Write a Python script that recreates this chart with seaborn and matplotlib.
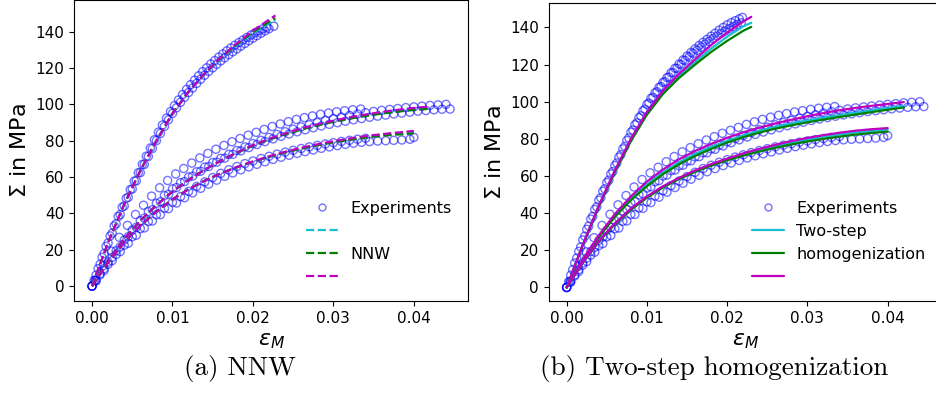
import seaborn as sns
import matplotlib.pyplot as plt
from matplotlib.lines import Line2D

# experiments, steep load case (three replicates)
exp_a1_strain = [0.0000, 0.0005, 0.0010, 0.0015, 0.0020, 0.0025, 0.0030, 0.0035, 0.0040, 0.0045,
                 0.0050, 0.0055, 0.0060, 0.0065, 0.0070, 0.0075, 0.0080, 0.0085, 0.0090, 0.0095,
                 0.0100, 0.0105, 0.0110, 0.0115, 0.0120, 0.0125, 0.0130, 0.0135, 0.0140, 0.0145,
                 0.0150, 0.0155, 0.0160, 0.0165, 0.0170, 0.0175, 0.0180, 0.0185, 0.0190, 0.0195,
                 0.0200, 0.0205, 0.0210, 0.0215, 0.0220, 0.0226]
exp_a1_stress = [0.0, 6.0, 12.0, 17.9, 23.7, 29.1, 34.3, 39.3, 44.1, 48.8,
                 53.4, 57.9, 62.4, 66.9, 71.3, 75.7, 80.0, 84.0, 87.8, 91.5,
                 95.0, 98.1, 101.1, 103.9, 106.5, 109.0, 111.5, 113.8, 116.0, 118.1,
                 120.1, 122.0, 123.9, 125.6, 127.3, 128.9, 130.5, 132.0, 133.5, 135.0,
                 136.4, 137.8, 139.1, 140.4, 141.6, 143.0]

exp_a2_strain = [0.00025, 0.00075, 0.00125, 0.00175, 0.00225, 0.00275, 0.00325, 0.00375, 0.00425, 0.00475,
                 0.00525, 0.00575, 0.00625, 0.00675, 0.00725, 0.00775, 0.00825, 0.00875, 0.00925, 0.00975,
                 0.01025, 0.01075, 0.01125, 0.01175, 0.01225, 0.01275, 0.01325, 0.01375, 0.01425, 0.01475,
                 0.01525, 0.01575, 0.01625, 0.01675, 0.01725, 0.01775, 0.01825, 0.01875, 0.01925, 0.01975,
                 0.02025, 0.02075, 0.02125, 0.02175]
exp_a2_stress = [3.2, 9.6, 15.8, 21.8, 27.6, 33.1, 38.3, 43.4, 48.3, 53.1,
                 57.8, 62.4, 67.0, 71.5, 76.0, 80.5, 84.7, 88.6, 92.4, 96.0,
                 99.3, 102.4, 105.4, 108.2, 110.8, 113.3, 115.7, 118.0, 120.1, 122.2,
                 124.1, 126.0, 127.7, 129.4, 131.0, 132.5, 134.0, 135.4, 136.8, 138.1,
                 139.4, 140.5, 141.6, 142.5]

exp_a3_strain = [0.0000, 0.0005, 0.0010, 0.0015, 0.0020, 0.0025, 0.0030, 0.0035, 0.0040, 0.0045,
                 0.0050, 0.0055, 0.0060, 0.0065, 0.0070, 0.0075, 0.0080, 0.0085, 0.0090, 0.0095,
                 0.0100, 0.0105, 0.0110, 0.0115, 0.0120, 0.0125, 0.0130, 0.0135, 0.0140, 0.0145,
                 0.0150, 0.0155, 0.0160, 0.0165, 0.0170, 0.0175, 0.0180, 0.0185, 0.0190, 0.0195,
                 0.0200, 0.0205, 0.0210, 0.0215, 0.0219]
exp_a3_stress = [0.0, 6.6, 13.1, 19.4, 25.6, 31.3, 36.8, 42.0, 47.0, 51.8,
                 56.5, 61.1, 65.6, 70.1, 74.6, 79.1, 83.5, 87.6, 91.4, 95.1,
                 98.6, 101.8, 104.8, 107.7, 110.4, 113.0, 115.6, 118.0, 120.3, 122.5,
                 124.6, 126.6, 128.5, 130.3, 132.0, 133.6, 135.3, 136.9, 138.5, 140.0,
                 141.4, 142.6, 143.6, 144.6, 145.4]

# experiments, middle load case
exp_b1_strain = [0.0000, 0.0004, 0.0014, 0.0024, 0.0034, 0.0044, 0.0054, 0.0064, 0.0074, 0.0084,
                 0.0094, 0.0104, 0.0114, 0.0124, 0.0134, 0.0144, 0.0154, 0.0164, 0.0174, 0.0184,
                 0.0194, 0.0204, 0.0214, 0.0224, 0.0234, 0.0244, 0.0254, 0.0264, 0.0274, 0.0284,
                 0.0294, 0.0304, 0.0314, 0.0324, 0.0334]
exp_b1_stress = [0.0, 3.2, 11.2, 19.2, 26.8, 33.4, 39.4, 44.5, 49.5, 54.1,
                 58.1, 61.7, 64.7, 67.7, 70.5, 73.0, 75.3, 77.4, 79.4, 81.2,
                 83.0, 84.6, 86.2, 87.8, 89.2, 90.5, 91.7, 92.7, 93.6, 94.5,
                 95.2, 95.9, 96.5, 97.0, 97.4]

exp_b2_strain = [0.000, 0.001, 0.002, 0.003, 0.004, 0.005, 0.006, 0.007, 0.008, 0.009,
                 0.010, 0.011, 0.012, 0.013, 0.014, 0.015, 0.016, 0.017, 0.018, 0.019,
                 0.020, 0.021, 0.022, 0.023, 0.024, 0.025, 0.026, 0.027, 0.028, 0.029,
                 0.030, 0.031, 0.032, 0.033, 0.034, 0.035, 0.036, 0.037, 0.038, 0.039,
                 0.040, 0.041, 0.042, 0.043, 0.044]
exp_b2_stress = [0.0, 6.8, 13.2, 19.4, 25.3, 30.8, 36.0, 41.0, 45.5, 49.8,
                 53.5, 56.9, 60.0, 62.9, 65.5, 68.0, 70.3, 72.5, 74.6, 76.6,
                 78.4, 80.2, 81.8, 83.4, 84.9, 86.3, 87.6, 88.8, 90.0, 91.1,
                 92.1, 93.0, 93.9, 94.7, 95.4, 96.1, 96.7, 97.2, 97.7, 98.2,
                 98.6, 99.0, 99.4, 99.7, 100.0]

exp_b3_strain = [0.0005, 0.0015, 0.0025, 0.0035, 0.0045, 0.0055, 0.0065, 0.0075, 0.0085, 0.0095,
                 0.0105, 0.0115, 0.0125, 0.0135, 0.0145, 0.0155, 0.0165, 0.0175, 0.0185, 0.0195,
                 0.0205, 0.0215, 0.0225, 0.0235, 0.0245, 0.0255, 0.0265, 0.0275, 0.0285, 0.0295,
                 0.0305, 0.0315, 0.0325, 0.0335, 0.0345, 0.0355, 0.0365, 0.0375, 0.0385, 0.0395,
                 0.0405, 0.0415, 0.0425, 0.0435, 0.0445]
exp_b3_stress = [3.2, 9.6, 15.8, 21.6, 27.2, 32.4, 37.4, 42.0, 46.4, 50.5,
                 54.2, 57.5, 60.5, 63.2, 65.8, 68.2, 70.4, 72.5, 74.4, 76.2,
                 77.9, 79.5, 81.0, 82.4, 83.7, 84.9, 86.0, 87.1, 88.1, 89.0,
                 89.9, 90.7, 91.5, 92.2, 92.9, 93.5, 94.1, 94.7, 95.2, 95.7,
                 96.2, 96.6, 97.0, 97.3, 97.4]

# experiments, lower load case
exp_c1_strain = [0.000, 0.001, 0.002, 0.003, 0.004, 0.005, 0.006, 0.007, 0.008, 0.009,
                 0.010, 0.011, 0.012, 0.013, 0.014, 0.015, 0.016, 0.017, 0.018, 0.019,
                 0.020, 0.021, 0.022, 0.023, 0.024, 0.025, 0.026, 0.027, 0.028, 0.029,
                 0.030, 0.031, 0.032, 0.033, 0.034]
exp_c1_stress = [0.0, 6.2, 12.0, 17.4, 22.5, 27.2, 31.6, 35.6, 39.3, 42.8,
                 46.1, 49.2, 52.1, 54.8, 57.3, 59.7, 62.0, 64.0, 65.8, 67.4,
                 68.8, 70.2, 71.4, 72.6, 73.7, 74.7, 75.7, 76.6, 77.4, 78.2,
                 78.9, 79.6, 80.2, 80.8, 81.3]

exp_c2_strain = [0.0005, 0.0015, 0.0025, 0.0035, 0.0045, 0.0055, 0.0065, 0.0075, 0.0085, 0.0095,
                 0.0105, 0.0115, 0.0125, 0.0135, 0.0145, 0.0155, 0.0165, 0.0175, 0.0185, 0.0195,
                 0.0205, 0.0215, 0.0225, 0.0235, 0.0245, 0.0255, 0.0265, 0.0275, 0.0285, 0.0295,
                 0.0305, 0.0315, 0.0325, 0.0335, 0.0345, 0.0355, 0.0365, 0.0375, 0.0385, 0.0395,
                 0.0400]
exp_c2_stress = [2.8, 8.6, 14.0, 19.0, 23.6, 28.0, 32.0, 35.8, 39.3, 42.6,
                 45.7, 48.6, 51.3, 53.8, 56.1, 58.3, 60.4, 62.3, 64.0, 65.6,
                 67.0, 68.4, 69.7, 70.9, 72.0, 73.0, 74.0, 74.9, 75.8, 76.6,
                 77.3, 78.0, 78.6, 79.1, 79.5, 79.8, 80.0, 80.2, 80.4, 80.8,
                 81.8]

# model predictions
strain_a_nnw = [0.0, 0.002, 0.004, 0.006, 0.008, 0.010, 0.012, 0.014, 0.016, 0.018, 0.020, 0.022, 0.0228]
strain_a_ts = [0.0, 0.002, 0.004, 0.006, 0.008, 0.010, 0.012, 0.014, 0.016, 0.018, 0.020, 0.022, 0.0230]
strain_b = [0.0, 0.002, 0.004, 0.006, 0.008, 0.010, 0.012, 0.014, 0.016, 0.018, 0.020,
            0.022, 0.024, 0.026, 0.028, 0.030, 0.032, 0.034, 0.036, 0.038, 0.040, 0.042]
strain_c = [0.0, 0.002, 0.004, 0.006, 0.008, 0.010, 0.012, 0.014, 0.016, 0.018, 0.020,
            0.022, 0.024, 0.026, 0.028, 0.030, 0.032, 0.034, 0.036, 0.038, 0.040]

nnw_a = {
    'c': [0, 24, 45, 63.5, 80, 95, 107, 116.8, 125.3, 132.6, 139.1, 144.6, 146.4],
    'g': [0, 24, 45, 63.5, 80, 95, 107, 117.0, 125.6, 133.0, 139.7, 145.4, 147.4],
    'm': [0, 24, 45, 63.5, 80, 95, 107, 117.0, 125.8, 133.5, 140.5, 146.6, 148.9],
}
nnw_b = {
    'c': [0, 14, 26, 36, 44.5, 52, 58.5, 64, 69, 73.4, 77.3, 80.8, 83.8, 86.4, 88.7, 90.7, 92.4, 93.9, 95.2, 96.3, 97.2, 97.9],
    'g': [0, 14, 26, 36, 44.5, 52, 58.5, 64, 69, 73.3, 77.2, 80.6, 83.5, 86.1, 88.4, 90.4, 92.1, 93.6, 94.9, 96.0, 96.9, 97.6],
    'm': [0, 14, 26, 36, 44.5, 52, 58.5, 64, 69, 73.5, 77.5, 81.0, 84.0, 86.7, 89.0, 91.0, 92.8, 94.4, 95.8, 97.0, 98.0, 98.8],
}
nnw_c = {
    'c': [0, 13, 24, 33.2, 41, 47.7, 53.3, 58, 62, 65.4, 68.5, 71.2, 73.7, 75.8, 77.7, 79.4, 80.8, 82.1, 83.1, 83.9, 84.6],
    'g': [0, 13, 24, 33.2, 41, 47.7, 53.3, 58, 62, 65.4, 68.4, 71.1, 73.5, 75.6, 77.5, 79.1, 80.5, 81.7, 82.7, 83.4, 84.0],
    'm': [0, 13, 24, 33.2, 41, 47.7, 53.3, 58, 62, 65.5, 68.6, 71.4, 73.9, 76.1, 78.0, 79.7, 81.2, 82.5, 83.6, 84.5, 85.4],
}

ts_a = {
    'c': [0, 22.8, 43.7, 62.6, 79.4, 93.8, 105.1, 113.9, 121.4, 128.6, 135.0, 140.6, 142.5],
    'g': [0, 22.7, 43.5, 62.2, 78.8, 93.0, 104.2, 112.8, 120.0, 126.8, 132.8, 138.2, 140.3],
    'm': [0, 23.0, 44.0, 63.0, 80.0, 94.5, 106.0, 115.0, 122.8, 130.5, 137.3, 143.2, 145.7],
}
ts_b = {
    'c': [0, 14.7, 27.4, 38.6, 47.8, 55.5, 62.0, 67.4, 71.9, 75.7, 79.0, 81.9, 84.4, 86.5, 88.3, 89.9, 91.4, 92.8, 94.1, 95.3, 96.5, 97.6],
    'g': [0, 14.5, 27.0, 38.0, 47.0, 54.5, 61.0, 66.3, 70.8, 74.6, 78.0, 80.9, 83.4, 85.5, 87.3, 88.9, 90.4, 91.8, 93.1, 94.4, 95.7, 96.9],
    'm': [0, 15.0, 28.0, 39.5, 49.0, 57.0, 63.5, 69.0, 73.5, 77.3, 80.6, 83.5, 86.0, 88.3, 90.3, 92.2, 93.9, 95.4, 96.7, 97.8, 98.8, 99.8],
}
ts_c = {
    'c': [0, 13.4, 24.8, 34.2, 42.1, 48.6, 54.1, 58.7, 62.6, 66.0, 69.0, 71.6, 74.0, 76.0, 77.9, 79.5, 81.0, 82.3, 83.4, 84.3, 85.0],
    'g': [0, 13.3, 24.6, 34.0, 41.8, 48.3, 53.8, 58.4, 62.3, 65.6, 68.5, 71.0, 73.2, 75.2, 77.0, 78.6, 80.0, 81.2, 82.3, 83.2, 83.9],
    'm': [0, 13.5, 25.0, 34.5, 42.5, 49.0, 54.5, 59.0, 63.0, 66.4, 69.4, 72.2, 74.6, 76.8, 78.8, 80.5, 82.0, 83.3, 84.4, 85.2, 85.8],
}

colors = {'c': 'tab:cyan', 'g': 'green', 'm': 'm'}

sns.set_style('ticks')
plt.rcParams['font.family'] = 'DejaVu Sans'
plt.rcParams['axes.edgecolor'] = 'black'
plt.rcParams['xtick.color'] = 'black'
plt.rcParams['ytick.color'] = 'black'
plt.rcParams['text.color'] = 'black'
plt.rcParams['axes.labelcolor'] = 'black'

fig = plt.figure(figsize=(9.36, 4.15), dpi=100)
ax1 = fig.add_axes([74 / 936, 114 / 415, 394 / 936, 301 / 415])
ax2 = fig.add_axes([548.7 / 936, 114 / 415, 393 / 936, 297.7 / 415])


def draw_experiments(ax, curves):
    for strain, stress in curves:
        sns.scatterplot(x=strain, y=stress, ax=ax, marker='o', s=34,
                        facecolors='none', edgecolor='blue', linewidth=1.0, alpha=0.55)


def draw_models(ax, cases, ls):
    for strain, model in cases:
        for key in ['c', 'g', 'm']:
            sns.lineplot(x=strain, y=model[key], ax=ax, color=colors[key],
                         linestyle=ls, linewidth=1.6, sort=False, estimator=None)


def style_axes(ax, ylim, labels, ls):
    ax.set_xlim(-0.00224, 0.04673)
    ax.set_ylim(*ylim)
    ax.set_xticks([0.0, 0.01, 0.02, 0.03, 0.04])
    ax.set_xticklabels(['0.00', '0.01', '0.02', '0.03', '0.04'])
    ax.set_yticks([0, 20, 40, 60, 80, 100, 120, 140])
    ax.tick_params(labelsize=11)
    ax.set_xlabel(r'$\varepsilon_M$', fontsize=16)
    ax.set_ylabel(r'$\Sigma$ in MPa', fontsize=16)
    handles = [Line2D([], [], marker='o', ls='none', mfc='none', mec='blue', alpha=0.55, ms=5)]
    for key in ['c', 'g', 'm']:
        handles.append(Line2D([], [], color=colors[key], ls=ls, lw=1.6))
    ax.legend(handles, labels, loc='lower right', frameon=False, fontsize=11.5,
              labelspacing=0.5, handlelength=2.0, borderaxespad=0.6)


draw_experiments(ax1, [(exp_a1_strain, exp_a1_stress), (exp_a2_strain, exp_a2_stress),
                       (exp_b1_strain, exp_b1_stress), (exp_b2_strain, exp_b2_stress),
                       (exp_b3_strain, exp_b3_stress), (exp_c1_strain, exp_c1_stress),
                       (exp_c2_strain, exp_c2_stress)])
draw_models(ax1, [(strain_a_nnw, nnw_a), (strain_b, nnw_b), (strain_c, nnw_c)], '--')
style_axes(ax1, (-8.2, 157.4), ['Experiments', '', 'NNW', ''], '--')

draw_experiments(ax2, [(exp_a2_strain, exp_a2_stress), (exp_a3_strain, exp_a3_stress),
                       (exp_b1_strain, exp_b1_stress), (exp_b2_strain, exp_b2_stress),
                       (exp_b3_strain, exp_b3_stress), (exp_c1_strain, exp_c1_stress),
                       (exp_c2_strain, exp_c2_stress)])
draw_models(ax2, [(strain_a_ts, ts_a), (strain_b, ts_b), (strain_c, ts_c)], '-')
style_axes(ax2, (-7.3, 153.0), ['Experiments', 'Two-step', 'homogenization', ''], '-')

fig.text(240 / 936, 1 - 368 / 415, '(a) NNW', family='cmr10', fontsize=19.5,
         ha='center', va='center')
fig.text(714 / 936, 1 - 368 / 415, '(b) Two-step homogenization', family='cmr10',
         fontsize=19.5, ha='center', va='center')

fig.savefig('out.png', dpi=100)
